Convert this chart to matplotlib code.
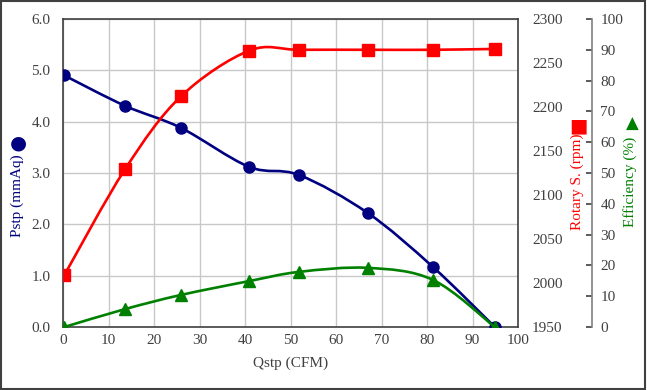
import numpy as np
import matplotlib.pyplot as plt
from matplotlib.path import Path
from matplotlib.patches import PathPatch, Rectangle

# Data
qstp = [0.3, 13.6, 25.9, 40.9, 51.9, 67.0, 81.3, 94.9]
pstp = [4.90, 4.31, 3.88, 3.12, 2.96, 2.22, 1.17, 0.0]
rpm = [2009, 2129, 2212, 2264, 2265, 2265, 2265, 2266]
eff = [0.0, 5.8, 10.4, 14.9, 17.9, 19.2, 15.3, 0.0]

plt.rcParams['font.family'] = ['Liberation Serif', 'DejaVu Sans']
tick_color = '#404040'


def smooth_path(x, y):
    # Excel-like smoothed line: cubic bezier with catmull-rom control points
    x = np.asarray(x, float)
    y = np.asarray(y, float)
    n = len(x)
    verts = [(x[0], y[0])]
    codes = [Path.MOVETO]
    for i in range(n - 1):
        i0 = max(i - 1, 0)
        i3 = min(i + 2, n - 1)
        c1 = (x[i] + (x[i + 1] - x[i0]) / 6, y[i] + (y[i + 1] - y[i0]) / 6)
        c2 = (x[i + 1] - (x[i3] - x[i]) / 6, y[i + 1] - (y[i3] - y[i]) / 6)
        verts += [c1, c2, (x[i + 1], y[i + 1])]
        codes += [Path.CURVE4] * 3
    return Path(verts, codes)


fig = plt.figure(figsize=(6.47, 3.90), dpi=100)
ax = fig.add_axes([63 / 647, 63 / 390, 455 / 647, 308 / 390])
ax2 = ax.twinx()
ax3 = ax.twinx()

# Pstp
ax.add_patch(PathPatch(smooth_path(qstp, pstp), fill=False, color='#000080', lw=1.9))
ax.plot(qstp, pstp, 'o', color='#000080', ms=8, zorder=3)
ax.set_xlim(0, 100)
ax.set_ylim(0, 6)
ax.set_xticks(range(0, 101, 10))
ax.set_yticks(np.arange(0, 6.1, 1.0))
ax.set_yticklabels([f'{v:.1f}' for v in np.arange(0, 6.1, 1.0)])
ax.grid(True, color='#c8c8c8', lw=1.0)
ax.set_axisbelow(True)
ax.tick_params(axis='both', length=0, labelsize=11, labelcolor=tick_color)
ax.tick_params(axis='y', pad=9)
ax.tick_params(axis='x', pad=5)
for s in ax.spines.values():
    s.set_color('#404040')
    s.set_linewidth(1.2)
ax.set_xlabel('Qstp (CFM)', fontsize=11, color=tick_color, labelpad=7)

# Rotary speed
ax2.add_patch(PathPatch(smooth_path(qstp, rpm), fill=False, color='#ff0000', lw=1.9))
ax2.plot(qstp, rpm, 's', color='#ff0000', ms=8, zorder=3)
ax2.set_ylim(1950, 2300)
ax2.set_yticks(range(1950, 2301, 50))
ax2.tick_params(axis='y', length=0, pad=10, labelsize=11, labelcolor=tick_color)
for s in ax2.spines.values():
    s.set_visible(False)

# Efficiency
ax3.add_patch(PathPatch(smooth_path(qstp, eff), fill=False, color='#008000', lw=1.9))
ax3.plot(qstp, eff, '^', color='#008000', ms=9, zorder=3)
ax3.set_ylim(0, 100)
ax3.set_yticks(range(0, 101, 10))
ax3.spines['right'].set_position(('axes', 1.163))
for k in ['left', 'top', 'bottom']:
    ax3.spines[k].set_visible(False)
ax3.spines['right'].set_color('#808080')
ax3.spines['right'].set_linewidth(1.2)
ax3.tick_params(axis='y', direction='in', length=4, width=1.2, color='#404040',
                pad=6, labelsize=11, labelcolor=tick_color)

# Axis titles with marker glyphs
fig.text(17 / 647, 1 - 196 / 390, 'Pstp (mmAq)', rotation=90, color='#000080',
         fontsize=11, ha='center', va='center')
fig.text(18 / 647, 1 - 143 / 390, '●', color='#000080', fontsize=14,
         ha='center', va='center', family='DejaVu Sans')
fig.text(577 / 647, 1 - 182 / 390, 'Rotary S. (rpm)', rotation=90, color='#ff0000',
         fontsize=11, ha='center', va='center')
fig.text(578 / 647, 1 - 126 / 390, '■', color='#ff0000', fontsize=14,
         ha='center', va='center', family='DejaVu Sans')
fig.text(630 / 647, 1 - 182 / 390, 'Efficiency (%)', rotation=90, color='#008000',
         fontsize=11, ha='center', va='center')
fig.text(632 / 647, 1 - 124 / 390, '▲', color='#008000', fontsize=12,
         ha='center', va='center', family='DejaVu Sans')

# outer frame
fig.patches.append(Rectangle((0.002, 0.003), 0.995, 0.994, transform=fig.transFigure,
                             fill=False, edgecolor='#404040', lw=1.5))

fig.savefig('out.png', dpi=100)
